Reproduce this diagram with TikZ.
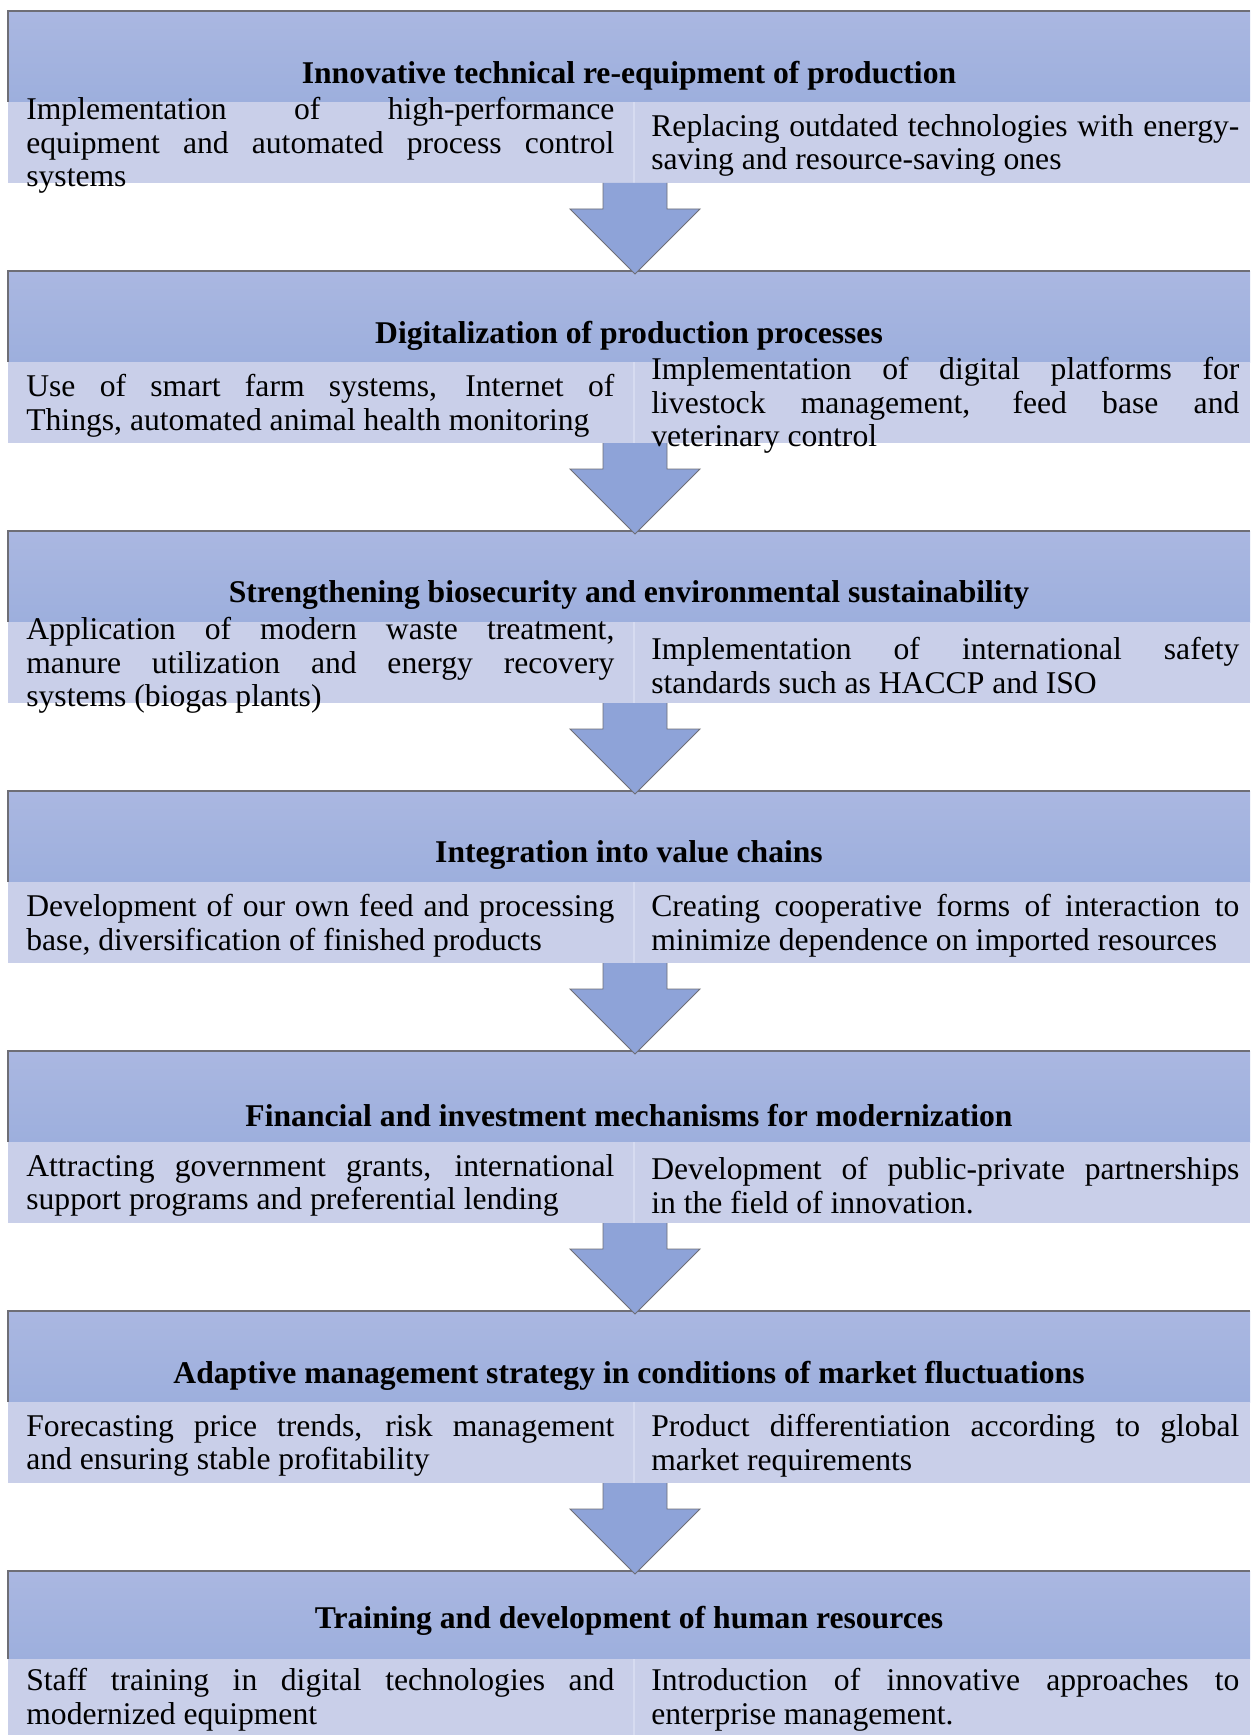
\documentclass[tikz,border=0pt]{standalone}
\usepackage{fontspec}
\setmainfont{Liberation Serif}
\usetikzlibrary{positioning,calc}
\definecolor{headtop}{RGB}{170,183,225}
\definecolor{headbot}{RGB}{157,175,221}
\definecolor{subfill}{RGB}{201,207,233}
\definecolor{splitfill}{RGB}{214,219,240}
\definecolor{arrowfill}{RGB}{142,163,216}
\definecolor{linegray}{RGB}{110,110,118}
\tolerance=9999
\hbadness=10000

\begin{document}
\begin{tikzpicture}
    % Define styles
    \tikzstyle{header} = [top color=headtop, bottom color=headbot, minimum width=24.84cm, minimum height=1.82cm, inner sep=0, outer sep=0]
    \tikzstyle{subbox} = [fill=subfill, minimum height=1.62cm, inner sep=0, outer sep=0]
    \tikzstyle{title} = [font=\fontsize{18}{19.2}\selectfont\bfseries, inner sep=0]
    \tikzstyle{subtext} = [font=\fontsize{18}{19.2}\selectfont, text width=11.76cm, align=justify, anchor=west, inner sep=0]
    \tikzstyle{topline} = [draw=linegray, line width=0.7pt]
    \tikzstyle{splitline} = [draw=splitfill, line width=1.2pt]
    \tikzstyle{blockarrow} = [draw=linegray, line width=0.5pt, fill=arrowfill]

    \useasboundingbox (0,0) rectangle (25,-34.7);

    % Header bars
    \node[header] (h1) at (12.58,-1.13) {};
    \node[header] (h2) at (12.58,-6.33) {};
    \node[header] (h3) at (12.58,-11.53) {};
    \node[header] (h4) at (12.58,-16.73) {};
    \node[header] (h5) at (12.58,-21.93) {};
    \node[header] (h6) at (12.58,-27.13) {};
    \node[header, minimum height=1.76cm] (h7) at (12.58,-32.30) {};

    % Sub boxes under each header
    \node[subbox, minimum width=12.52cm, below right=0cm and 0cm of h1.south west] (l1) {};
    \node[subbox, minimum width=12.32cm, right=0cm of l1] (r1) {};
    \node[subbox, minimum width=12.52cm, below right=0cm and 0cm of h2.south west] (l2) {};
    \node[subbox, minimum width=12.32cm, right=0cm of l2] (r2) {};
    \node[subbox, minimum width=12.52cm, below right=0cm and 0cm of h3.south west] (l3) {};
    \node[subbox, minimum width=12.32cm, right=0cm of l3] (r3) {};
    \node[subbox, minimum width=12.52cm, below right=0cm and 0cm of h4.south west] (l4) {};
    \node[subbox, minimum width=12.32cm, right=0cm of l4] (r4) {};
    \node[subbox, minimum width=12.52cm, below right=0cm and 0cm of h5.south west] (l5) {};
    \node[subbox, minimum width=12.32cm, right=0cm of l5] (r5) {};
    \node[subbox, minimum width=12.52cm, below right=0cm and 0cm of h6.south west] (l6) {};
    \node[subbox, minimum width=12.32cm, right=0cm of l6] (r6) {};
    \node[subbox, minimum width=12.52cm, minimum height=1.52cm, below right=0cm and 0cm of h7.south west] (l7) {};
    \node[subbox, minimum width=12.32cm, minimum height=1.52cm, right=0cm of l7] (r7) {};

    % Border on top of the headers, light split between the sub boxes
    \foreach \i in {1,...,7} {
        \draw[topline] (h\i.south west) -- (h\i.north west) -- (h\i.north east);
        \draw[splitline] (l\i.north east) -- (l\i.south east);
    }

    % Block arrows between the levels
    \foreach \i/\j in {1/2,2/3,3/4,4/5,5/6,6/7} {
        \coordinate (a\i) at ($(l\i.south east)+(0.02,0)$);
        \coordinate (b\i) at ($(a\i |- h\j.north)+(0,-0.06)$);
        \draw[blockarrow] ($(a\i)+(-0.64,0)$) -- ++(0,-0.52) -- ++(-0.66,0) -- (b\i)
            -- ($(a\i)+(1.30,-0.52)$) -- ++(-0.66,0) -- ($(a\i)+(0.64,0)$);
    }

    % Titles
    \node[title] (t1) at ([yshift=-0.38cm]h1.center) {Innovative technical re-equipment of production};
    \node[title] (t2) at ([yshift=-0.38cm]h2.center) {Digitalization of production processes};
    \node[title] (t3) at ([yshift=-0.38cm]h3.center) {Strengthening biosecurity and environmental sustainability};
    \node[title] (t4) at ([yshift=-0.38cm]h4.center) {Integration into value chains};
    \node[title] (t5) at ([yshift=-0.38cm]h5.center) {Financial and investment mechanisms for modernization};
    \node[title] (t6) at ([yshift=-0.38cm]h6.center) {Adaptive management strategy in conditions of market fluctuations};
    \node[title] (t7) at ([yshift=-0.12cm]h7.center) {Training and development of human resources};

    % Texts of the sub boxes
    \node[subtext] (lt1) at ([xshift=0.36cm,yshift=-0.06cm]l1.west) {Implementation of high-performance\linebreak equipment and automated process control\linebreak systems};
    \node[subtext] (rt1) at ([xshift=0.34cm,yshift=-0.06cm]r1.west) {Replacing outdated technologies with energy-\linebreak saving and resource-saving ones};
    \node[subtext] (lt2) at ([xshift=0.36cm,yshift=-0.06cm]l2.west) {Use of smart farm systems, Internet of\linebreak Things, automated animal health monitoring};
    \node[subtext] (rt2) at ([xshift=0.34cm,yshift=-0.06cm]r2.west) {Implementation of digital platforms for\linebreak livestock management, feed base and\linebreak veterinary control};
    \node[subtext] (lt3) at ([xshift=0.36cm,yshift=-0.06cm]l3.west) {Application of modern waste treatment,\linebreak manure utilization and energy recovery\linebreak systems (biogas plants)};
    \node[subtext] (rt3) at ([xshift=0.34cm,yshift=-0.06cm]r3.west) {Implementation of international safety\linebreak standards such as HACCP and ISO};
    \node[subtext] (lt4) at ([xshift=0.36cm,yshift=-0.06cm]l4.west) {Development of our own feed and processing\linebreak base, diversification of finished products};
    \node[subtext] (rt4) at ([xshift=0.34cm,yshift=-0.06cm]r4.west) {Creating cooperative forms of interaction to\linebreak minimize dependence on imported resources};
    \node[subtext] (lt5) at ([xshift=0.36cm,yshift=-0.06cm]l5.west) {Attracting government grants, international\linebreak support programs and preferential lending};
    \node[subtext] (rt5) at ([xshift=0.34cm,yshift=-0.06cm]r5.west) {Development of public-private partnerships\linebreak in the field of innovation.};
    \node[subtext] (lt6) at ([xshift=0.36cm,yshift=-0.06cm]l6.west) {Forecasting price trends, risk management\linebreak and ensuring stable profitability};
    \node[subtext] (rt6) at ([xshift=0.34cm,yshift=-0.06cm]r6.west) {Product differentiation according to global\linebreak market requirements};
    \node[subtext] (lt7) at ([xshift=0.36cm,yshift=-0.06cm]l7.west) {Staff training in digital technologies and\linebreak modernized equipment};
    \node[subtext] (rt7) at ([xshift=0.34cm,yshift=-0.06cm]r7.west) {Introduction of innovative approaches to\linebreak enterprise management.};

\end{tikzpicture}
\end{document}
